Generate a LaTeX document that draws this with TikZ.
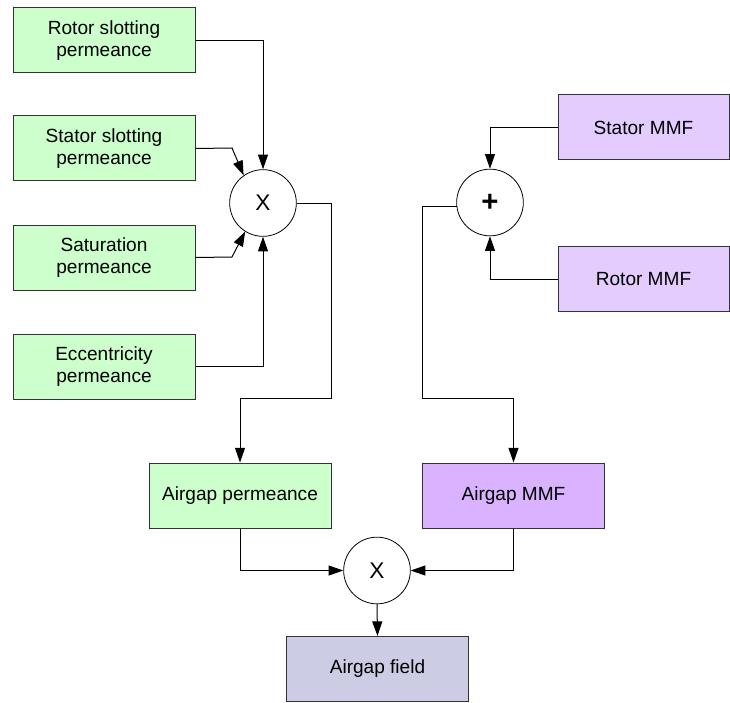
\documentclass[tikz,border=0pt]{standalone}
\usepackage{fontspec}
\setmainfont{Liberation Sans}
\usetikzlibrary{arrows.meta}
\definecolor{pgreen}{HTML}{CCFFCC}
\definecolor{pviolet}{HTML}{E5CCFF}
\definecolor{pviolettwo}{HTML}{D9B3FF}
\definecolor{pfield}{HTML}{CCCCE5}
\tikzset{
  blockbox/.style={draw=black!80, line width=0.75pt, rectangle, minimum width=136.5pt, minimum height=48.75pt, align=center, inner sep=0pt, font=\fontsize{14.3}{17}\selectfont},
  opcircle/.style={draw=black, line width=0.6pt, circle, fill=white, minimum size=50pt, inner sep=0pt, font=\fontsize{17}{20}\selectfont},
  conn/.style={draw=black, line width=0.75pt},
  arr/.style={conn, -{Triangle[length=11pt,width=7.5pt]}}
}
\begin{document}
\begin{tikzpicture}[x=0.75pt,y=-0.75pt]
\useasboundingbox (0,0) rectangle (730,702);
\node[blockbox, fill=pgreen] (rs) at (104,40.5) {Rotor slotting\\permeance};
\node[blockbox, fill=pgreen] (ss) at (104,148.5) {Stator slotting\\permeance};
\node[blockbox, fill=pgreen] (sat) at (104,257.5) {Saturation\\permeance};
\node[blockbox, fill=pgreen] (ecc) at (104,366.5) {Eccentricity\\permeance};
\node[blockbox, fill=pviolet, minimum width=128.25pt] (smmf) at (643.5,127.5) {Stator MMF};
\node[blockbox, fill=pviolet, minimum width=128.25pt] (rmmf) at (643.5,279) {Rotor MMF};
\node[blockbox, fill=pgreen] (ap) at (240,495.5) {Airgap permeance};
\node[blockbox, fill=pviolettwo] (amf) at (513.5,495.5) {Airgap MMF};
\node[blockbox, fill=pfield] (af) at (377.5,669) {Airgap field};
\node[opcircle] (c1) at (263,203) {X};
\node[opcircle, font=\fontsize{22}{24}\bfseries] (c2) at (490,202.5) {+};
\node[opcircle] (c3) at (377,570.5) {X};
\coordinate (k1) at (232,148);
\coordinate (k2) at (232,257);
\draw[arr] (rs.east) -| (c1.north);
\draw[arr] (ss.east) -- (k1) -- (c1.125);
\draw[arr] (sat.east) -- (k2) -- (c1.238);
\draw[arr] (ecc.east) -| (c1.south);
\draw[arr] (c1.east) -| (331,398) -| (ap.north);
\draw[arr] (smmf.west) -| (c2.north);
\draw[arr] (rmmf.west) -| (c2.south);
\draw[arr] (c2.187) -| (422,398) -| (amf.north);
\draw[arr] (ap.south) |- (c3.west);
\draw[arr] (amf.south) |- (c3.east);
\draw[arr] (c3.south) -- (af.north);
\end{tikzpicture}
\end{document}
